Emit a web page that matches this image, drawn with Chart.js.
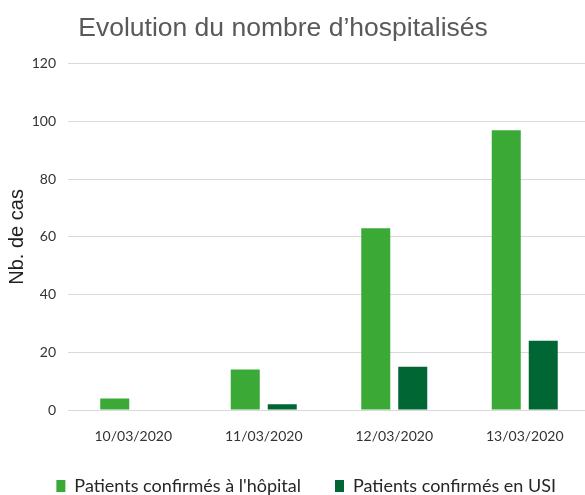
<!DOCTYPE html>
<html lang="fr">
<head>
<meta charset="utf-8">
<title>Evolution du nombre d’hospitalisés</title>
<script src="https://cdn.jsdelivr.net/npm/chart.js@4.4.1/dist/chart.umd.min.js"></script>
<style>
    html, body { margin: 0; padding: 0; background: #ffffff; overflow: hidden; width: 585px; height: 495px; }
    /* canvas is a bit wider/taller than the window so the plot runs to the right edge like the original */
    .chart-wrap { position: relative; left: -24px; width: 616px; height: 505px; }
</style>
</head>
<body>
<div class="chart-wrap"><canvas id="hospChart"></canvas></div>
<script>
// Data
const categories = ['10/03/2020', '11/03/2020', '12/03/2020', '13/03/2020'];
const hospitalValues = [4, 14, 63, 97];
const usiValues = [0, 2, 15, 24];
const yTicks = [0, 20, 40, 60, 80, 100, 120];

const seriesNames = ["Patients confirmés à l'hôpital", 'Patients confirmés en USI'];

document.addEventListener('DOMContentLoaded', function() {
    const ctx = document.getElementById('hospChart').getContext('2d');
    const tickFont = { family: "Lato, 'Noto Sans', sans-serif", size: 14 };

    new Chart(ctx, {
        type: 'bar',
        data: {
            labels: categories,
            datasets: [
                {
                    label: seriesNames[0],
                    data: hospitalValues,
                    backgroundColor: '#3ba935',
                    barPercentage: 0.784,
                    categoryPercentage: 0.567
                },
                {
                    label: seriesNames[1],
                    data: usiValues,
                    backgroundColor: '#006633',
                    barPercentage: 0.784,
                    categoryPercentage: 0.567
                }
            ]
        },
        options: {
            responsive: true,
            maintainAspectRatio: false,
            animation: false,
            layout: { padding: { left: 0, right: 2, top: 0, bottom: 0 } },
            plugins: {
                title: {
                    display: true,
                    text: 'Evolution du nombre d’hospitalisés',
                    color: '#595959',
                    font: { family: "'Liberation Sans', Arial, sans-serif", size: 26.5, weight: 'normal' },
                    padding: { top: 13, bottom: 19 }
                },
                legend: {
                    position: 'bottom',
                    align: 'end',
                    labels: {
                        color: '#262626',
                        font: { family: "Lato, 'Noto Sans', sans-serif", size: 18 },
                        boxWidth: 9,
                        boxHeight: 12,
                        padding: 34
                    }
                },
                tooltip: { enabled: false }
            },
            scales: {
                y: {
                    min: yTicks[0],
                    max: yTicks[yTicks.length - 1],
                    ticks: {
                        stepSize: yTicks[1] - yTicks[0],
                        color: '#333333',
                        font: tickFont,
                        padding: 12
                    },
                    grid: { color: '#d9d9d9', lineWidth: 1, drawTicks: false },
                    border: { display: false },
                    title: {
                        display: true,
                        text: 'Nb. de cas',
                        color: '#1f1f1f',
                        font: { family: "'Liberation Sans', Arial, sans-serif", size: 20 },
                        padding: { top: 29, bottom: 0 }
                    },
                    afterFit: function(scale) { scale.width = 92; }
                },
                x: {
                    ticks: { color: '#333333', font: tickFont, padding: 10 },
                    grid: { display: false },
                    border: { display: false },
                    afterFit: function(scale) { scale.height = 33; }
                }
            }
        }
    });
});
</script>
</body>
</html>
